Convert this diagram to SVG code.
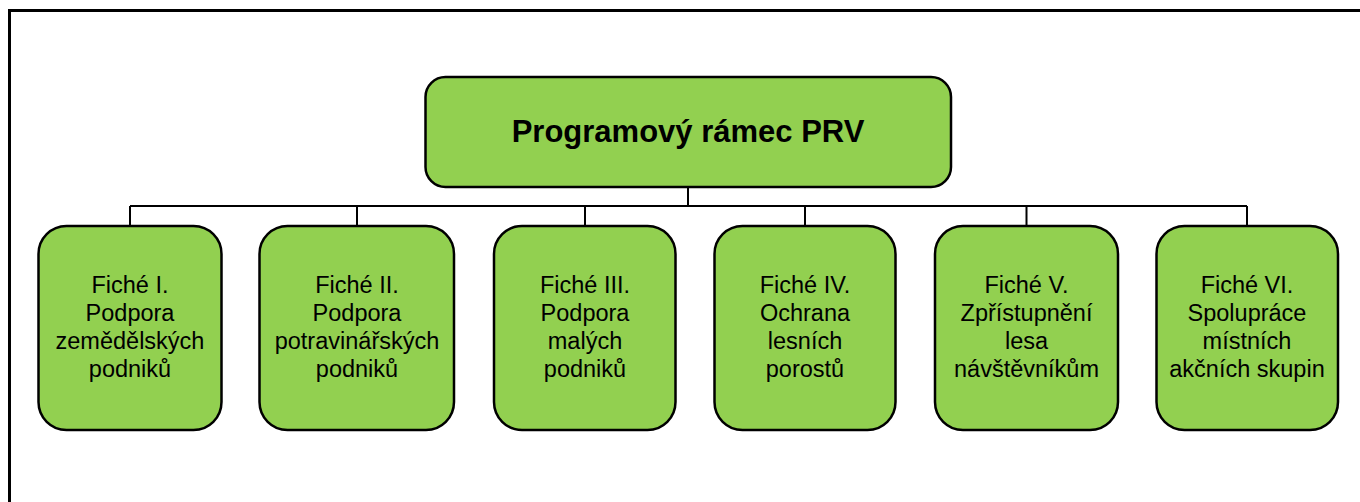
<svg xmlns="http://www.w3.org/2000/svg" width="1360" height="502" viewBox="0 0 1360 502">
<style>
.box{fill:#92D050;stroke:#000;stroke-width:2.5}
.lbl{font-family:"Liberation Sans",Arial,sans-serif;font-size:23.5px;fill:#000;text-anchor:middle}
.ttl{font-family:"Liberation Sans",Arial,sans-serif;font-size:31px;font-weight:bold;fill:#000;text-anchor:middle}
.con{stroke:#000;stroke-width:2;fill:none}
</style>
<rect width="1360" height="502" fill="#fff"/>
<rect x="9.5" y="10.5" width="1400" height="600" fill="none" stroke="#000" stroke-width="3"/>
<g id="connectors">
<path class="con" d="M688 187V206M130 206H1247M130 206V226M357 206V226M585 206V226M805 206V226M1026.5 206V226M1247 206V226"/>
</g>
<g id="root">
<rect class="box" x="425.5" y="77" width="525.5" height="110" rx="20"/>
<text class="ttl" x="688" y="142">Programový rámec PRV</text>
</g>
<g id="fiche1">
<rect class="box" x="38.5" y="226" width="183" height="204" rx="28"/>
<text class="lbl" x="130" y="293">Fiché I.</text>
<text class="lbl" x="130" y="321">Podpora</text>
<text class="lbl" x="130" y="349">zemědělských</text>
<text class="lbl" x="130" y="377">podniků</text>
</g>
<g id="fiche2">
<rect class="box" x="259.5" y="226" width="194.5" height="204" rx="28"/>
<text class="lbl" x="357" y="293">Fiché II.</text>
<text class="lbl" x="357" y="321">Podpora</text>
<text class="lbl" x="357" y="349">potravinářských</text>
<text class="lbl" x="357" y="377">podniků</text>
</g>
<g id="fiche3">
<rect class="box" x="494" y="226" width="181.5" height="204" rx="28"/>
<text class="lbl" x="585" y="293">Fiché III.</text>
<text class="lbl" x="585" y="321">Podpora</text>
<text class="lbl" x="585" y="349">malých</text>
<text class="lbl" x="585" y="377">podniků</text>
</g>
<g id="fiche4">
<rect class="box" x="714.5" y="226" width="181" height="204" rx="28"/>
<text class="lbl" x="805" y="293">Fiché IV.</text>
<text class="lbl" x="805" y="321">Ochrana</text>
<text class="lbl" x="805" y="349">lesních</text>
<text class="lbl" x="805" y="377">porostů</text>
</g>
<g id="fiche5">
<rect class="box" x="935" y="226" width="183" height="204" rx="28"/>
<text class="lbl" x="1026.5" y="293">Fiché V.</text>
<text class="lbl" x="1026.5" y="321">Zpřístupnění</text>
<text class="lbl" x="1026.5" y="349">lesa</text>
<text class="lbl" x="1026.5" y="377">návštěvníkům</text>
</g>
<g id="fiche6">
<rect class="box" x="1156.5" y="226" width="181.5" height="204" rx="28"/>
<text class="lbl" x="1247" y="293">Fiché VI.</text>
<text class="lbl" x="1247" y="321">Spolupráce</text>
<text class="lbl" x="1247" y="349">místních</text>
<text class="lbl" x="1247" y="377">akčních skupin</text>
</g>
</svg>
